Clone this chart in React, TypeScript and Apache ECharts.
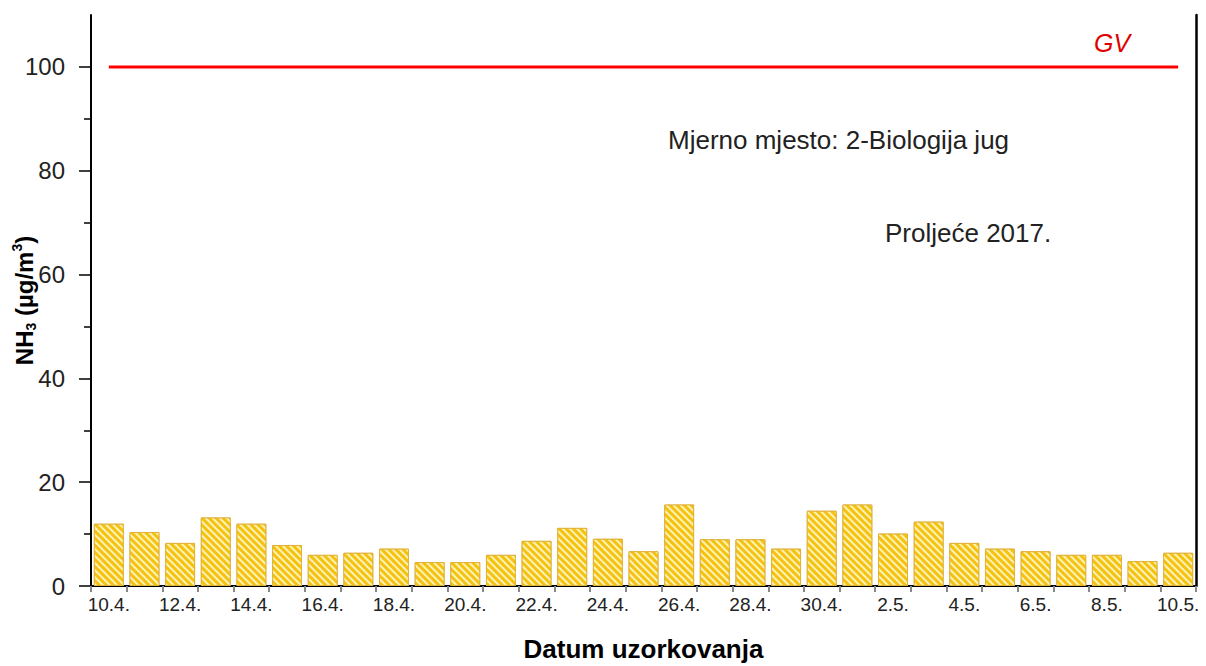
import React, { useEffect, useRef } from "react";
import * as echarts from "echarts";

const categories = [
  "10.4.", "11.4.", "12.4.", "13.4.", "14.4.", "15.4.", "16.4.", "17.4.", "18.4.", "19.4.",
  "20.4.", "21.4.", "22.4.", "23.4.", "24.4.", "25.4.", "26.4.", "27.4.", "28.4.", "29.4.",
  "30.4.", "1.5.", "2.5.", "3.5.", "4.5.", "5.5.", "6.5.", "7.5.", "8.5.", "9.5.", "10.5.",
];

const nh3Values = [
  12.0, 10.4, 8.3, 13.2, 12.0, 7.9, 6.0, 6.4, 7.2, 4.6,
  4.6, 6.0, 8.7, 11.2, 9.1, 6.7, 15.7, 9.0, 9.0, 7.2,
  14.5, 15.7, 10.1, 12.4, 8.3, 7.2, 6.7, 6.0, 6.0, 4.8, 6.4,
];

const gvLimit = 100;
const majorTicks = [0, 20, 40, 60, 80, 100];
const minorTicks = [10, 30, 50, 70, 90];
const yMax = 110;

const FONT = "'Liberation Sans', Arial, sans-serif";

export default function App() {
  const ref = useRef<HTMLDivElement>(null);

  useEffect(() => {
    if (!ref.current) return;
    const chart = echarts.init(ref.current, null, { renderer: "svg" });
    const option: any = {
      animation: false,
      backgroundColor: "#ffffff",
      grid: { left: 91, right: 10, top: 15, bottom: 80, containLabel: false, outerBoundsMode: "none" },
      xAxis: {
        type: "category",
        data: categories,
        boundaryGap: true,
        name: "Datum uzorkovanja",
        nameLocation: "middle",
        nameGap: 50,
        nameMoveOverlap: false,
        nameTextStyle: { fontSize: 26, fontWeight: "bold", color: "#000", fontFamily: FONT },
        axisLine: { show: true, lineStyle: { color: "#000", width: 2 } },
        axisTick: { show: true, interval: 0, length: 6, lineStyle: { color: "#888", width: 2 } },
        axisLabel: { interval: 1, fontSize: 19, color: "#222", margin: 9, fontFamily: FONT },
        splitLine: { show: false },
      },
      yAxis: [
        {
          type: "value",
          min: 0,
          max: yMax,
          position: "left",
          offset: 0,
          name: "{b|NH}{sub|3}{b| (µg/m}{sup|3}{b|)}",
          nameLocation: "middle",
          nameGap: 53,
          nameMoveOverlap: false,
          nameTextStyle: {
            color: "#000",
            fontFamily: FONT,
            rich: {
              b: { fontSize: 24, fontWeight: "bold", color: "#000", fontFamily: FONT, lineHeight: 28 },
              sub: { fontSize: 14, fontWeight: "bold", color: "#000", fontFamily: FONT, verticalAlign: "bottom", lineHeight: 28, padding: [10, 0, 0, 0] },
              sup: { fontSize: 14, fontWeight: "bold", color: "#000", fontFamily: FONT, verticalAlign: "top", lineHeight: 28, padding: [0, 0, 10, 0] },
            },
          },
          axisLine: { show: true, lineStyle: { color: "#000", width: 2 } },
          axisTick: { show: true, length: 12, customValues: majorTicks, lineStyle: { color: "#000", width: 1.5 } },
          axisLabel: { customValues: majorTicks, fontSize: 24, color: "#222", margin: 26, fontFamily: FONT },
          splitLine: { show: false },
        },
        {
          type: "value",
          min: 0,
          max: yMax,
          position: "left",
          offset: 0,
          axisLine: { show: false },
          axisTick: { show: true, length: 7, customValues: minorTicks, lineStyle: { color: "#000", width: 1.5 } },
          axisLabel: { show: false },
          splitLine: { show: false },
        },
        {
          type: "value",
          min: 0,
          max: yMax,
          position: "right",
          offset: 0,
          axisLine: { show: true, lineStyle: { color: "#000", width: 2.5 } },
          axisTick: { show: false },
          axisLabel: { show: false },
          splitLine: { show: false },
        },
      ],
      series: [
        {
          type: "bar",
          yAxisIndex: 0,
          data: nh3Values,
          barCategoryGap: "16%",
          itemStyle: {
            color: "#f5c211",
            borderColor: "#e2b33a",
            borderWidth: 1,
            decal: {
              symbol: "rect",
              symbolSize: 1,
              color: "rgba(255, 249, 200, 0.9)",
              dashArrayX: [1, 0],
              dashArrayY: [2, 3],
              rotation: Math.PI / 4,
            },
          },
        },
        {
          type: "line",
          yAxisIndex: 0,
          data: categories.map(() => gvLimit),
          symbol: "none",
          lineStyle: { color: "#ff0000", width: 3 },
          itemStyle: { color: "#ff0000" },
          z: 5,
        },
      ],
      graphic: [
        {
          type: "text",
          x: 1112,
          y: 43,
          style: {
            text: "GV",
            fill: "#e00000",
            fontSize: 25,
            fontStyle: "italic",
            fontFamily: FONT,
            align: "center",
            verticalAlign: "middle",
          },
        },
        {
          type: "text",
          x: 668,
          y: 140,
          style: {
            text: "Mjerno mjesto: 2-Biologija jug",
            fill: "#222",
            fontSize: 26,
            fontFamily: FONT,
            align: "left",
            verticalAlign: "middle",
          },
        },
        {
          type: "text",
          x: 885,
          y: 233,
          style: {
            text: "Proljeće 2017.",
            fill: "#222",
            fontSize: 26,
            fontFamily: FONT,
            align: "left",
            verticalAlign: "middle",
          },
        },
      ],
    };
    chart.setOption(option);
    return () => chart.dispose();
  }, []);

  return (
    <div
      ref={ref}
      style={{ position: "fixed", left: 0, top: 0, width: 1206, height: 666, background: "#fff" }}
    />
  );
}
